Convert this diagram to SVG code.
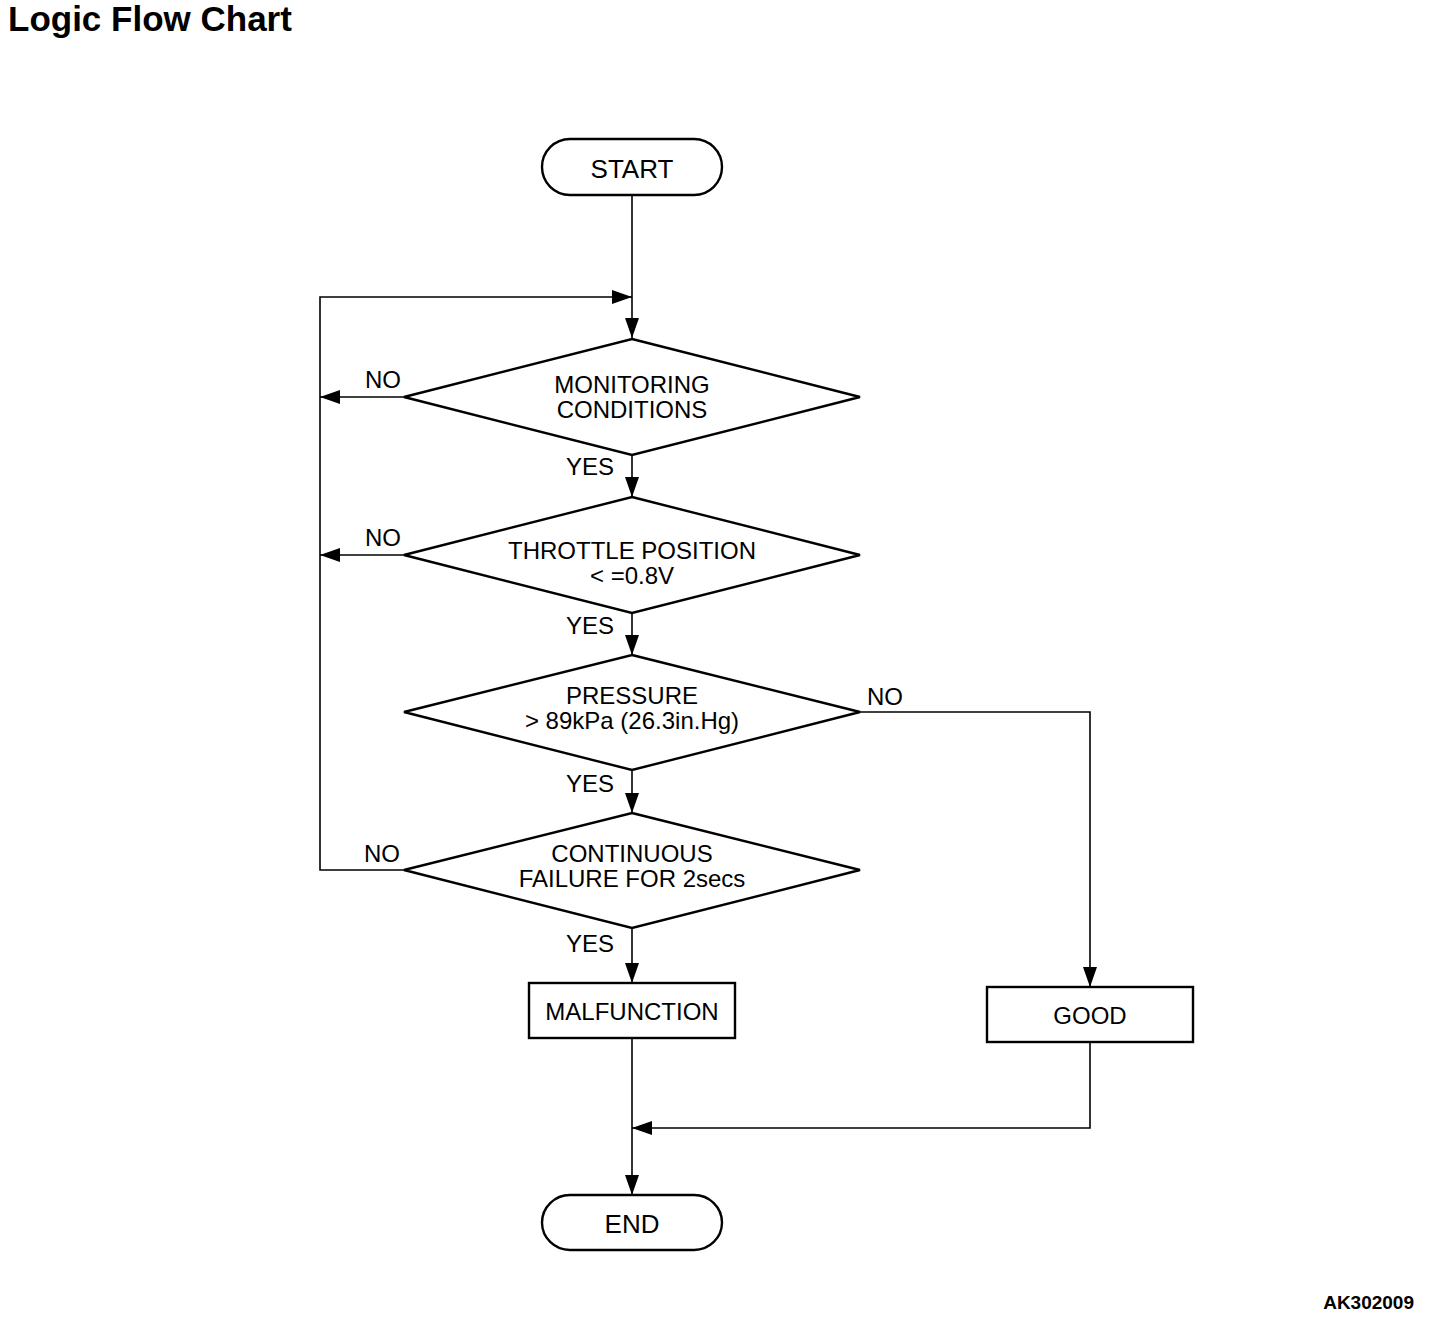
<svg xmlns="http://www.w3.org/2000/svg" width="1440" height="1320" viewBox="0 0 1440 1320">
<style>
text{font-family:"Liberation Sans",Arial,sans-serif;font-size:24px;fill:#000}
.c{text-anchor:middle}
.t{font-size:26px}
.node{fill:#fff;stroke:#000;stroke-width:2.4}
.ln{fill:none;stroke:#000;stroke-width:1.6}
.b{font-weight:bold}
</style>
<defs>
<marker id="ah" markerWidth="20" markerHeight="14" refX="20" refY="7" orient="auto" markerUnits="userSpaceOnUse">
<path d="M0,0 L20,7 L0,14 Z" fill="#000"/>
</marker>
</defs>
<rect width="1440" height="1320" fill="#fff"/>
<text x="8" y="31" class="b" style="font-size:35px">Logic Flow Chart</text>
<text x="1414" y="1309" class="b" style="font-size:19px;text-anchor:end">AK302009</text>

<g id="connectors">
<path class="ln" d="M632,195 V338" marker-end="url(#ah)"/>
<path class="ln" d="M404,870 H320 V297 H632" marker-end="url(#ah)"/>
<path class="ln" d="M404,397 H320" marker-end="url(#ah)"/>
<path class="ln" d="M404,555 H320" marker-end="url(#ah)"/>
<path class="ln" d="M632,455 V497" marker-end="url(#ah)"/>
<path class="ln" d="M632,613 V655" marker-end="url(#ah)"/>
<path class="ln" d="M632,770 V813" marker-end="url(#ah)"/>
<path class="ln" d="M632,928 V983" marker-end="url(#ah)"/>
<path class="ln" d="M860,712 H1090 V987" marker-end="url(#ah)"/>
<path class="ln" d="M632,1038 V1195" marker-end="url(#ah)"/>
<path class="ln" d="M1090,1042 V1128 H632" marker-end="url(#ah)"/>
<text x="383" y="388" class="c">NO</text>
<text x="383" y="546" class="c">NO</text>
<text x="382" y="862" class="c">NO</text>
<text x="885" y="705" class="c">NO</text>
<text x="590" y="475" class="c">YES</text>
<text x="590" y="634" class="c">YES</text>
<text x="590" y="792" class="c">YES</text>
<text x="590" y="952" class="c">YES</text>
</g>

<g id="start">
<rect class="node" x="542" y="139" width="180" height="56" rx="28"/>
<text x="632" y="178" class="c t">START</text>
</g>
<g id="monitoring">
<polygon class="node" points="632,339 860,397 632,455 404,397"/>
<text x="632" y="393" class="c">MONITORING</text>
<text x="632" y="418" class="c">CONDITIONS</text>
</g>
<g id="throttle">
<polygon class="node" points="632,497 860,555 632,613 404,555"/>
<text x="632" y="559" class="c">THROTTLE POSITION</text>
<text x="632" y="584" class="c">&lt; =0.8V</text>
</g>
<g id="pressure">
<polygon class="node" points="632,655 860,712 632,770 404,712"/>
<text x="632" y="704" class="c">PRESSURE</text>
<text x="632" y="729" class="c">&gt; 89kPa (26.3in.Hg)</text>
</g>
<g id="continuous">
<polygon class="node" points="632,813 860,870 632,928 404,870"/>
<text x="632" y="862" class="c">CONTINUOUS</text>
<text x="632" y="887" class="c">FAILURE FOR 2secs</text>
</g>
<g id="malfunction">
<rect class="node" x="529" y="983" width="206" height="55"/>
<text x="632" y="1020" class="c">MALFUNCTION</text>
</g>
<g id="good">
<rect class="node" x="987" y="987" width="206" height="55"/>
<text x="1090" y="1024" class="c">GOOD</text>
</g>
<g id="end">
<rect class="node" x="542" y="1195" width="180" height="55" rx="28"/>
<text x="632" y="1233" class="c t">END</text>
</g>
</svg>
